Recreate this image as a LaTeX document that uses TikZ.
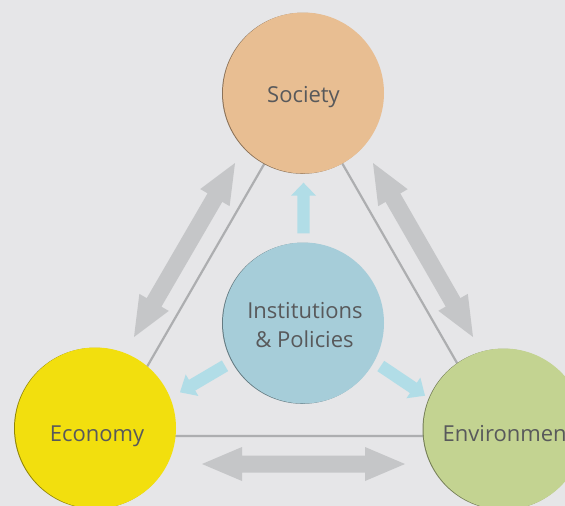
\documentclass[tikz,border=0pt]{standalone}
\usepackage{fontspec}
\setmainfont{Open Sans}
\usetikzlibrary{calc}
\definecolor{bg}{HTML}{E6E6E8}
\definecolor{socC}{HTML}{E8BE92}
\definecolor{instC}{HTML}{A6CDD9}
\definecolor{ecoC}{HTML}{F2DF0E}
\definecolor{envC}{HTML}{C3D391}
\definecolor{linkC}{HTML}{ADAEB0}
\definecolor{greyArr}{HTML}{C5C6C8}
\definecolor{blueArr}{HTML}{B1DDE7}
\definecolor{txtC}{HTML}{58595B}
\tikzset{
  ball/.style={circle, minimum size=161pt, inner sep=0pt, fill=#1},
  ballshade/.style={fill=black!40!#1},
  lbl/.style={text=txtC, font=\fontsize{22}{29}\selectfont, inner sep=0pt},
  linkline/.style={draw=linkC, line width=2.2pt},
  greyarrow/.style={fill=greyArr},
  bluearrow/.style={fill=blueArr}
}
% double-headed arrow: style, A, B, head length, head half-width, shaft half-width
\newcommand\twoheaded[6]{%
  \coordinate (h1) at ($(#2)!#4!(#3)$);
  \coordinate (h2) at ($(#3)!#4!(#2)$);
  \fill[#1] (#2) -- ($(h1)!#5!90:(#3)$) -- ($(h1)!#6!90:(#3)$)
    -- ($(h2)!#6!-90:(#2)$) -- ($(h2)!#5!-90:(#2)$) -- (#3)
    -- ($(h2)!#5!90:(#2)$) -- ($(h2)!#6!90:(#2)$)
    -- ($(h1)!#6!-90:(#3)$) -- ($(h1)!#5!-90:(#3)$) -- cycle;}
% single-headed arrow: style, tail T, tip P, head length, head half-width, shaft half-width
\newcommand\oneheaded[6]{%
  \coordinate (hb) at ($(#3)!#4!(#2)$);
  \fill[#1] ($(#2)!#6!90:(#3)$) -- ($(hb)!#6!-90:(#2)$) -- ($(hb)!#5!-90:(#2)$)
    -- (#3) -- ($(hb)!#5!90:(#2)$) -- ($(hb)!#6!90:(#2)$)
    -- ($(#2)!#6!-90:(#3)$) -- cycle;}
\begin{document}
\begin{tikzpicture}[x=1pt,y=-1pt]
\useasboundingbox (0,0) rectangle (565,506);
\clip (0,0) rectangle (565,506);
\fill[bg] (0,0) rectangle (565,506);

% circle centres
\coordinate (socP) at (303.5,93);
\coordinate (instP) at (303.5,323);
\coordinate (ecoP) at (95.5,428);
\coordinate (envP) at (504,429);

% triangle of links
\coordinate (tS) at ($(socP)+(0,3)$);
\coordinate (tE) at ($(ecoP)+(11.5,8)$);
\coordinate (tV) at ($(envP)+(-5,7)$);
\draw[linkline] (tS) -- (tE) -- (tV) -- cycle;

% grey double arrows
\coordinate (gL1) at (134,337); \coordinate (gL2) at (235,163);
\coordinate (gR1) at (373,163); \coordinate (gR2) at (473,337);
\coordinate (gB1) at (202,464); \coordinate (gB2) at (405,464);
\twoheaded{greyarrow}{gL1}{gL2}{40pt}{17pt}{8.5pt}
\twoheaded{greyarrow}{gR1}{gR2}{40pt}{17pt}{8.5pt}
\twoheaded{greyarrow}{gB1}{gB2}{40pt}{17pt}{8.5pt}

% blue arrows
\coordinate (bU1) at (303.5,233.3); \coordinate (bU2) at (303.5,182.7);
\coordinate (bL1) at (225,365.8); \coordinate (bL2) at (180,392.3);
\coordinate (bR1) at (380.8,366); \coordinate (bR2) at (425,395.7);
\oneheaded{bluearrow}{bU1}{bU2}{13pt}{12.5pt}{6.2pt}
\oneheaded{bluearrow}{bL1}{bL2}{14pt}{12.5pt}{6.2pt}
\oneheaded{bluearrow}{bR1}{bR2}{14pt}{12.5pt}{6.2pt}

% circles (with a thin darker rim on the left)
\fill[ballshade=socC] ($(socP)+(-1,0.3)$) circle (80.5);
\fill[ballshade=instC] ($(instP)+(-1,0.3)$) circle (80.5);
\fill[ballshade=ecoC] ($(ecoP)+(-1,0.3)$) circle (80.5);
\fill[ballshade=envC] ($(envP)+(-1,0.3)$) circle (80.5);
\node[ball=socC] (soc) at (socP) {};
\node[ball=instC] (inst) at (instP) {};
\node[ball=ecoC] (eco) at (ecoP) {};
\node[ball=envC] (env) at (envP) {};

% labels
\node[lbl, anchor=base] (socT) at (303.5,102) {Society};
\node[lbl, anchor=base] (instT1) at (305,318) {Institutions};
\node[lbl, anchor=base] (instT2) at (304.5,347) {\& Policies};
\node[lbl, anchor=base] (ecoT) at (97,441) {Economy};
\node[lbl, anchor=base west] (envT) at (442.5,441) {Environment};
\end{tikzpicture}
\end{document}
